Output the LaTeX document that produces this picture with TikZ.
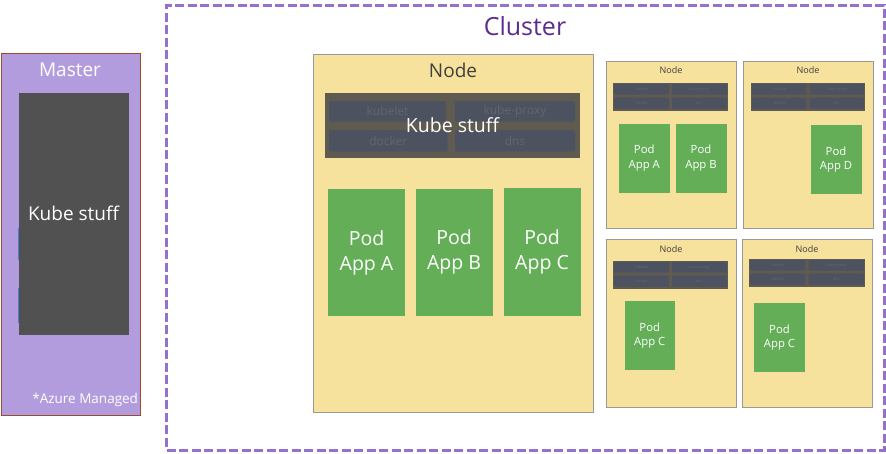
\documentclass[tikz,border=0pt]{standalone}
\usepackage{fontspec}
\setmainfont{Open Sans}
\usetikzlibrary{fit}
\definecolor{clusterc}{HTML}{9470CF}
\definecolor{clustertxt}{HTML}{5B2D8E}
\definecolor{yel}{HTML}{F6E29C}
\definecolor{nodeborder}{HTML}{999999}
\definecolor{barc}{HTML}{5F5B50}
\definecolor{innerc}{HTML}{4C5260}
\definecolor{innertxt}{HTML}{62666F}
\definecolor{podc}{HTML}{63AE57}
\definecolor{masterc}{HTML}{B29CDD}
\definecolor{masterborder}{HTML}{A04A2D}
\definecolor{kubec}{HTML}{515151}
\definecolor{titletxt}{HTML}{404040}
\definecolor{bluec}{HTML}{4A7FD8}
\newcommand\fs[1]{\fontsize{#1}{#1}\selectfont}
\begin{document}
\begin{tikzpicture}[x=1pt,y=-1pt,
  box/.style={inner sep=0pt, outer sep=0pt},
  clusterbox/.style={box, draw=clusterc, line width=3pt, dash pattern=on 9pt off 3.5pt},
  masterbox/.style={box, fill=masterc, draw=masterborder, line width=0.8pt},
  kubebox/.style={box, fill=kubec},
  nodebox/.style={box, fill=yel, draw=nodeborder, line width=0.9pt},
  barbox/.style={box, fill=barc},
  innerbox/.style={box, fill=innerc, rounded corners=2pt},
  podbox/.style={box, fill=podc},
  lbl/.style={inner sep=0pt, outer sep=0pt},
  biglbl/.style={lbl, text=white, font=\fs{19.5}, align=center},
  smalllbl/.style={lbl, text=white, font=\fs{11.3}, align=center},
  innerlbl/.style={lbl, text=innertxt}
]
\useasboundingbox (0,0) rectangle (886,453);

% Cluster
\node[clusterbox, fit={(166.5,5) (884,450)}] (cluster) {};
\node[lbl, text=clustertxt, font=\fs{25}] (clustertitle) at (525,26) {Cluster};

% Master
\node[masterbox, fit={(1,53) (140.5,415)}] (master) {};
\node[lbl, text=white, font=\fs{19}] (mastertitle) at (70,70) {Master};
\draw[bluec, line width=0.8pt] (18.6,228) -- (18.6,260);
\draw[bluec, line width=0.8pt] (18.6,288) -- (18.6,323);
\node[kubebox, fit={(19,92.5) (128.5,334.5)}] (masterkube) {};
\node[lbl, text=white, font=\fs{19}] (mk) at (73.5,213.5) {Kube stuff};
\node[lbl, text=white, font=\fs{13.5}, anchor=east] (azure) at (138,400) {*Azure Managed};

% Big node
\node[nodebox, fit={(313,54) (593,412)}] (bignode) {};
\node[lbl, text=titletxt, font=\fs{19}] (bignodetitle) at (453,70.5) {Node};
\node[barbox, fit={(325,92.5) (580,157.5)}] (bigbar) {};
\node[innerbox, fit={(329,101) (446,121.5)}] (bkubelet) {};
\node[innerbox, fit={(455,101) (575,121.5)}] (bproxy) {};
\node[innerbox, fit={(329,130) (447.5,151.5)}] (bdocker) {};
\node[innerbox, fit={(455,130) (575,151.5)}] (bdns) {};
\node[innerlbl, font=\fs{12}] at (bkubelet.center) {kubelet};
\node[innerlbl, font=\fs{12}] at (bproxy.center) {kube-proxy};
\node[innerlbl, font=\fs{12}] at (bdocker.center) {docker};
\node[innerlbl, font=\fs{12}] at (bdns.center) {dns};
\node[lbl, text=white, font=\fs{19.5}] (bigkube) at (452.5,125) {Kube stuff};
\node[podbox, fit={(328,189) (405,316)}] (bpa) {};
\node[biglbl] at (bpa.center) {Pod\\[5.5pt]App A};
\node[podbox, fit={(415.5,188.5) (492.5,315.5)}] (bpb) {};
\node[biglbl] at (bpb.center) {Pod\\[5.5pt]App B};
\node[podbox, fit={(503.5,188) (580.5,316)}] (bpc) {};
\node[biglbl] at (bpc.center) {Pod\\[5.5pt]App C};

% Small nodes
\foreach \i/\xa/\ya/\xb/\yb/\ly/\ba/\bb/\bc/\bd in {
  1/606/61/736/228/70.5/613/82.5/728/111,
  2/743/61/873/228/70.5/751/82.5/865/111,
  3/606/239/736/407/249/613/260.5/728/289,
  4/742/239/872/407/249/749/258.5/865/287}{
  \node[nodebox, line width=0.8pt, fit={(\xa,\ya) (\xb,\yb)}] (sn\i) {};
  \node[lbl, text=titletxt, font=\fs{9}] (snt\i) at ({(\xa+\xb)/2},\ly) {Node};
  \node[barbox, fit={(\ba,\bb) (\bc,\bd)}] (sb\i) {};
  \node[innerbox, rounded corners=0.8pt, fit={(\ba+1.2,\bb+1.5) ({(\ba+\bc)/2-1.5},\bb+12.2)}] (sk\i) {};
  \node[innerbox, rounded corners=0.8pt, fit={({(\ba+\bc)/2+1.5},\bb+1.5) (\bc-1.2,\bb+12.2)}] (sp\i) {};
  \node[innerbox, rounded corners=0.8pt, fit={(\ba+1.2,\bb+15.2) ({(\ba+\bc)/2-1.5},\bd-2.2)}] (sd\i) {};
  \node[innerbox, rounded corners=0.8pt, fit={({(\ba+\bc)/2+1.5},\bb+15.2) (\bc-1.2,\bd-2.2)}] (sdn\i) {};
  \node[innerlbl, font=\fs{4}] at (sk\i.center) {kubelet};
  \node[innerlbl, font=\fs{4}] at (sp\i.center) {kube-proxy};
  \node[innerlbl, font=\fs{4}] at (sd\i.center) {docker};
  \node[innerlbl, font=\fs{4}] at (sdn\i.center) {dns};
}

% Small pods
\node[podbox, fit={(619,123.5) (669.5,192.5)}] (p1a) {};
\node[smalllbl] at (p1a.center) {Pod\\[3pt]App A};
\node[podbox, fit={(675.5,123.5) (726.5,192.5)}] (p1b) {};
\node[smalllbl] at (p1b.center) {Pod\\[3pt]App B};
\node[podbox, fit={(810.5,125) (861.5,193.5)}] (p2d) {};
\node[smalllbl] at (p2d.center) {Pod\\[3pt]App D};
\node[podbox, fit={(624.5,301) (675,370)}] (p3c) {};
\node[smalllbl] at (p3c.center) {Pod\\[3pt]App C};
\node[podbox, fit={(754,303) (805,371.5)}] (p4c) {};
\node[smalllbl] at (p4c.center) {Pod\\[3pt]App C};
\end{tikzpicture}
\end{document}
